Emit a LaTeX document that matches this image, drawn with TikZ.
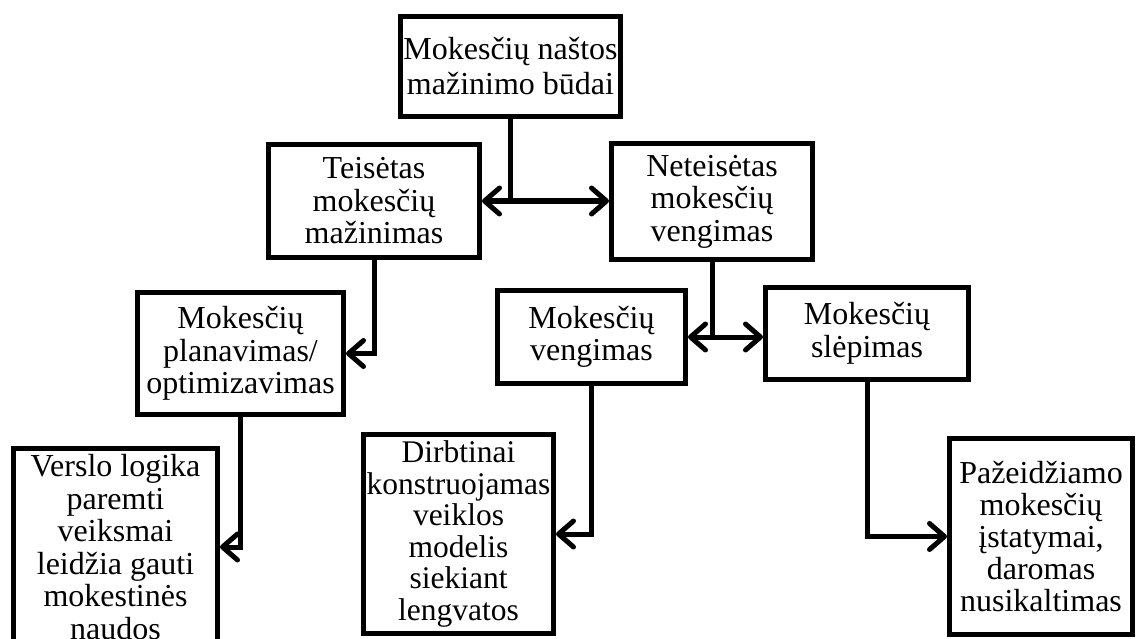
\documentclass[tikz,border=0pt]{standalone}
\usepackage{fontspec}
\setmainfont{Liberation Serif}
\usetikzlibrary{arrows.meta}

\begin{document}
\begin{tikzpicture}[x=1pt, y=-1pt,
		box/.style={draw, line width=5pt, align=center, inner sep=0pt, font=\fontsize{32}{32.5}\selectfont},
		arr/.style={line width=5pt, -{Straight Barb[length=15pt,width=26pt,round]}}]
				\useasboundingbox (0,0) rectangle (1137,639);
				\node[box, minimum width=220pt, minimum height=100pt, font=\fontsize{32}{35}\selectfont] (budai) at (510.5,66.5) {Mokesčių naštos\\mažinimo būdai};
				\node[box, minimum width=211pt, minimum height=113pt] (teisetas) at (374,201) {Teisėtas\\mokesčių\\mažinimas};
				\node[box, minimum width=201pt, minimum height=116pt] (neteisetas) at (712,201.5) {Neteisėtas\\mokesčių\\vengimas};
				\node[box, minimum width=206pt, minimum height=122pt] (planavimas) at (240.5,353.5) {Mokesčių\\planavimas/\\optimizavimas};
				\node[box, minimum width=204pt, minimum height=197pt] (verslo) at (115.5,547) {Verslo logika\\paremti\\veiksmai\\leidžia gauti\\mokestinės\\naudos};
				\node[box, minimum width=188pt, minimum height=93pt] (vengimas) at (591.5,337) {Mokesčių\\vengimas};
				\node[box, minimum width=203pt, minimum height=92pt] (slepimas) at (867,333.5) {Mokesčių\\slėpimas};
				\node[box, minimum width=190pt, minimum height=199pt, font=\fontsize{31.5}{31.5}\selectfont] (dirbtinai) at (458.5,534) {Dirbtinai\\konstruojamas\\veiklos\\modelis\\siekiant\\lengvatos};
				\node[box, minimum width=183pt, minimum height=196pt, font=\fontsize{32}{32}\selectfont] (pazeidziamo) at (1041,536.5) {Pažeidžiamo\\mokesčių\\įstatymai,\\daromas\\nusikaltimas};
				\coordinate (sk1) at (budai.south |- teisetas.east);
				\coordinate (sk2) at (neteisetas.south |- vengimas.east);
				\draw[arr] (budai.south) -- (sk1) -- (teisetas.east);
				\draw[arr] (sk1) -- (sk1 -| neteisetas.west);
				\draw[arr] (teisetas.south) |- (planavimas.east);
				\draw[arr] (planavimas.south) |- (verslo.east);
				\draw[arr] (neteisetas.south) -- (sk2) -- (vengimas.east);
				\draw[arr] (sk2) -- (sk2 -| slepimas.west);
				\draw[arr] (vengimas.south) |- (dirbtinai.east);
				\draw[arr] (slepimas.south) |- (pazeidziamo.west);
			\end{tikzpicture}
\end{document}
